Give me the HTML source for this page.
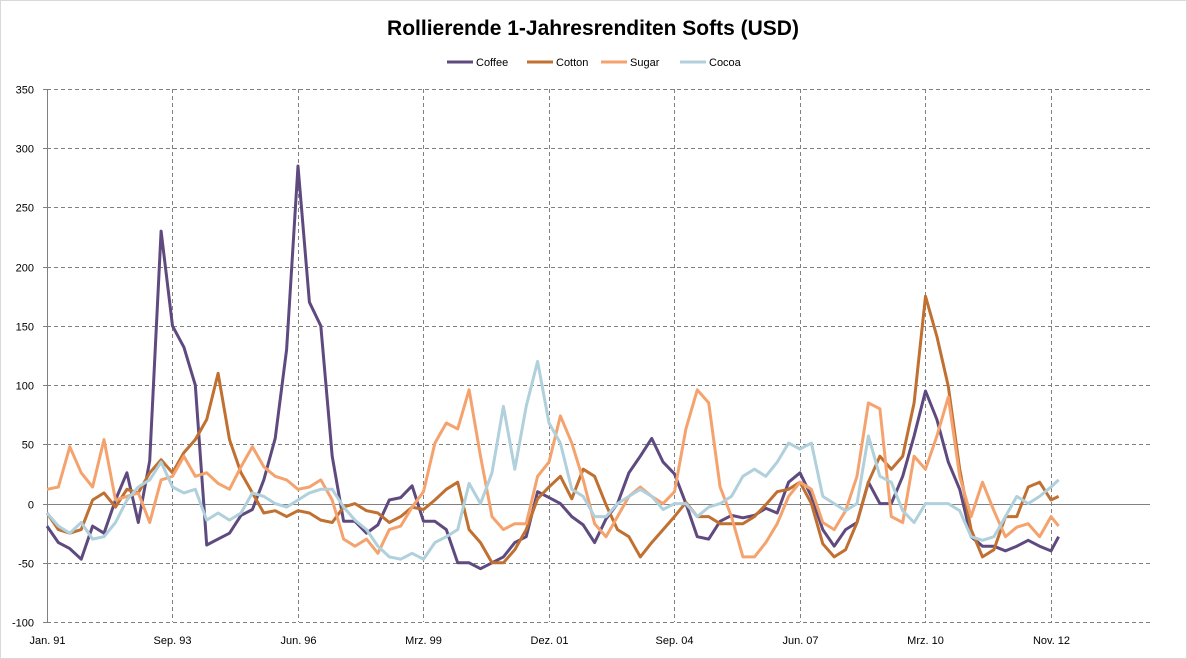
<!DOCTYPE html>
<html><head><meta charset="utf-8"><style>
body{margin:0;background:#fff;}
svg{display:block;font-family:"Liberation Sans",sans-serif;}
</style></head><body>
<svg id="chart" width="1187" height="659" viewBox="0 0 1187 659">
<rect x="0.5" y="0.5" width="1186" height="658" fill="#fff" stroke="#d9d9d9"/>
<text x="593" y="35" text-anchor="middle" font-size="21" font-weight="bold" fill="#000">Rollierende 1-Jahresrenditen Softs (USD)</text>
<g id="legend"></g>
<g id="grid"></g>
<g id="axes"></g>
<g id="series"></g>
</svg>
<script>
const seriesNames=["Coffee","Cotton","Sugar","Cocoa"];
const seriesColors=["#5e4a7e","#c07030","#f5a36e","#b0d0dc"];
const yTicks=[350,300,250,200,150,100,50,0,-50,-100];
const xTickLabels=["Jan. 91","Sep. 93","Jun. 96","Mrz. 99","Dez. 01","Sep. 04","Jun. 07","Mrz. 10","Nov. 12"];
const xTickMonths=[0,33,66,99,132,165,198,231,264];
const months=[0,3,6,9,12,15,18,21,24,27,30,33,36,39,42,45,48,51,54,57,60,63,66,69,72,75,78,81,84,87,90,93,96,99,102,105,108,111,114,117,120,123,126,129,132,135,138,141,144,147,150,153,156,159,162,165,168,171,174,177,180,183,186,189,192,195,198,201,204,207,210,213,216,219,222,225,228,231,234,237,240,243,246,249,252,255,258,261,264,266];
const coffee=[-19,-33,-38,-47,-19,-25,3,26,-16,36,230,150,132,100,-35,-30,-25,-10,-5,20,55,130,285,170,150,40,-15,-15,-25,-18,3,5,15,-15,-15,-22,-50,-50,-55,-50,-45,-33,-28,10,5,0,-11,-18,-33,-13,0,26,40,55,35,25,0,-28,-30,-15,-10,-12,-10,-4,-8,18,26,6,-22,-36,-22,-16,18,0,0,23,57,95,71,35,12,-28,-36,-36,-40,-36,-31,-36,-40,-28];
const cotton=[-8,-22,-25,-22,3,9,-3,12,9,26,37,26,43,54,71,110,54,26,9,-8,-6,-11,-6,-8,-14,-16,-3,0,-6,-8,-16,-11,-3,-5,3,12,18,-22,-33,-50,-50,-39,-22,4,14,23,4,29,23,-1,-22,-28,-45,-33,-22,-11,1,-11,-11,-17,-17,-17,-11,-1,10,12,18,0,-34,-45,-39,-16,18,40,29,40,85,175,141,99,29,-22,-45,-39,-11,-11,14,18,3,6];
const sugar=[12,14,48,26,14,54,3,6,9,-16,20,23,40,23,26,17,12,31,48,31,23,20,12,14,20,3,-30,-36,-30,-42,-22,-19,-3,10,51,68,63,96,40,-11,-22,-17,-17,23,35,74,51,20,-17,-28,-11,6,14,6,0,10,63,96,85,14,-11,-45,-45,-33,-17,6,18,12,-16,-22,-6,23,85,80,-11,-16,40,29,57,90,23,-11,18,-6,-28,-20,-17,-28,-11,-19];
const cocoa=[-8,-19,-25,-16,-30,-28,-16,3,14,20,35,14,9,12,-14,-8,-14,-8,9,6,0,-3,3,9,12,12,-3,-14,-22,-36,-45,-47,-42,-47,-33,-28,-22,17,0,26,82,29,82,120,68,51,12,6,-11,-11,0,6,12,6,-5,0,0,-11,-3,0,6,23,29,23,35,51,46,51,6,0,-6,0,57,23,18,-6,-16,0,0,0,-6,-28,-31,-28,-11,6,0,6,14,20];
const allSeries=[coffee,cotton,sugar,cocoa];

const NS="http://www.w3.org/2000/svg";
const X0=47,X1=1150,Y0=89,Y1=622,YMAX=350,YMIN=-100,PXM=3.803;
function xs(m){return X0+m*PXM;}
function ys(v){return Y0+(YMAX-v)*(Y1-Y0)/(YMAX-YMIN);}
function mk(tag,attrs,parent){const e=document.createElementNS(NS,tag);for(const k in attrs)e.setAttribute(k,attrs[k]);parent.appendChild(e);return e;}
const grid=document.getElementById('grid'),axes=document.getElementById('axes'),sg=document.getElementById('series'),lg=document.getElementById('legend');

yTicks.forEach(v=>{
  const y=Math.round(ys(v))+0.5;
  if(v!==0){
    const l=mk('line',{x1:X0,x2:X1,y1:y,y2:y,stroke:'#808080','stroke-dasharray':'4,3','stroke-width':1},grid);
    
    
  }
  const t=mk('line',{x1:X0-4,x2:X0,y1:y,y2:y,stroke:'#808080'},axes);
  
  
  const tx=mk('text',{x:34,y:y+4,'text-anchor':'end','font-size':11,fill:'#000'},axes);
  tx.textContent=v;
  
  
});
xTickMonths.forEach((m,i)=>{
  const x=Math.round(xs(m))+0.5;
  if(i>0){
    const l=mk('line',{x1:x,x2:x,y1:Y0,y2:Y1,stroke:'#808080','stroke-dasharray':'4,3','stroke-width':1},grid);
    
    
  }
  const tx=mk('text',{x:x,y:644,'text-anchor':'middle','font-size':11,fill:'#000'},axes);
  tx.textContent=xTickLabels[i];
  
  
});
const ya=mk('line',{x1:X0+0.5,x2:X0+0.5,y1:Y0,y2:Y1,stroke:'#808080'},axes);


const z=Math.round(ys(0))+0.5;
const za=mk('line',{x1:X0,x2:X1,y1:z,y2:z,stroke:'#808080'},axes);



allSeries.forEach((vals,si)=>{
  const d=vals.map((v,i)=>(i?'L':'M')+xs(months[i]).toFixed(1)+','+ys(v).toFixed(1)).join(' ');
  const p=mk('path',{d:d,fill:'none',stroke:seriesColors[si],'stroke-width':3,'stroke-linejoin':'round'},sg);
  
  
});

const legX=[447,527,601,680];
seriesNames.forEach((n,i)=>{
  const g=mk('g',{},lg);
  
  
  mk('line',{x1:legX[i],x2:legX[i]+26,y1:62,y2:62,stroke:seriesColors[i],'stroke-width':3},g);
  const t=mk('text',{x:legX[i]+29,y:66,'font-size':11,fill:'#000'},g);
  t.textContent=n;
});
</script>
</body></html>
